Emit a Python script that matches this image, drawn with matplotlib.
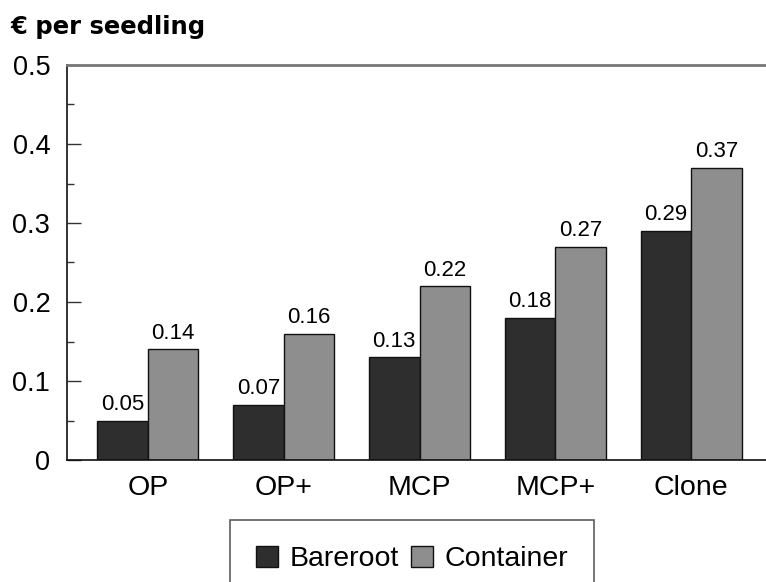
import matplotlib
matplotlib.use("Agg")
import matplotlib.pyplot as plt
import numpy as np

categories = ['OP', 'OP+', 'MCP', 'MCP+', 'Clone']
bareroot = [0.05, 0.07, 0.13, 0.18, 0.29]
container = [0.14, 0.16, 0.22, 0.27, 0.37]
series_names = ['Bareroot', 'Container']

plt.rcParams['font.family'] = ['Liberation Sans', 'DejaVu Sans']

fig = plt.figure(figsize=(7.66, 5.82), dpi=100)
ax = fig.add_axes([67 / 766, 122 / 582, 1 - 67 / 766, 395 / 582])

x = np.arange(len(categories))
w = 0.372
b1 = ax.bar(x - w / 2, bareroot, w, color='#2e2e2e', edgecolor='#111111', linewidth=1)
b2 = ax.bar(x + w / 2, container, w, color='#8e8e8e', edgecolor='#111111', linewidth=1)

for bars, vals in ((b1, bareroot), (b2, container)):
    for r, v in zip(bars, vals):
        ax.text(r.get_x() + r.get_width() / 2, v + 0.007, f'{v:.2f}',
                ha='center', va='bottom', fontsize=16)

ax.set_xlim(-0.595, 4.55)
ax.set_ylim(0, 0.5)
ax.set_yticks([0, 0.1, 0.2, 0.3, 0.4, 0.5])
ax.set_yticklabels(['0', '0.1', '0.2', '0.3', '0.4', '0.5'])
ax.set_yticks(np.arange(0.05, 0.5, 0.1), minor=True)
ax.set_xticks(x)
ax.set_xticklabels(categories)
ax.tick_params(axis='y', which='major', direction='in', length=10, width=1,
               color='#333333', labelsize=19.5, pad=12)
ax.tick_params(axis='y', which='minor', direction='in', length=5, width=1, color='#333333')
ax.tick_params(axis='x', length=0, labelsize=20.5, pad=11)

ax.spines['right'].set_visible(False)
ax.spines['top'].set_color('#777777')
ax.spines['top'].set_linewidth(2)
ax.spines['left'].set_color('#111111')
ax.spines['bottom'].set_color('#111111')
ax.spines['left'].set_linewidth(1.2)
ax.spines['bottom'].set_linewidth(1.2)

fig.text(10 / 766, 1 - 27 / 582, '€ per seedling', fontsize=17.5, fontweight='bold',
         family='DejaVu Sans', va='center', ha='left')

leg = fig.legend([b1, b2], series_names, loc='upper center',
                 bbox_to_anchor=(412 / 766, 1 - 520 / 582), ncol=2, frameon=True,
                 fancybox=False, edgecolor='#333333', fontsize=20.5,
                 handlelength=0.8, handleheight=0.8, handletextpad=0.4,
                 columnspacing=0.4, borderpad=0.9, borderaxespad=0)
leg.get_frame().set_linewidth(1.2)

fig.savefig('out.png', dpi=100)
